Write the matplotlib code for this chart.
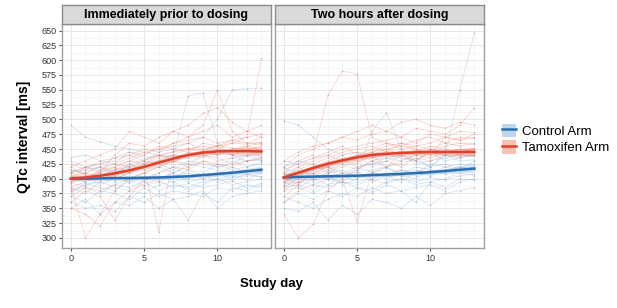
import matplotlib
matplotlib.use("Agg")
import matplotlib.pyplot as plt
from matplotlib.patches import Patch
from matplotlib.lines import Line2D
import numpy as np

plt.rcParams['font.family'] = ['Liberation Sans', 'DejaVu Sans']

days = list(range(14))
facets = ["Immediately prior to dosing", "Two hours after dosing"]

# individual patients, QTc in ms for study days 0..13
pre_control = [
    [490, 470, 462, 455, 450, 445, 440, 438, 440, 445, 442, 440, 438, 442],
    [410, 415, 420, 412, 418, 425, 430, 440, 540, 545, 460, 440, 430, 432],
    [430, 420, 425, 435, 440, 430, 445, 450, 460, 470, 500, 550, 552, 553],
    [400, 395, 405, 398, 410, 400, 395, 405, 410, 400, 405, 410, 415, 412],
    [380, 385, 375, 390, 385, 395, 380, 390, 385, 395, 400, 390, 395, 400],
    [370, 360, 380, 375, 365, 385, 370, 380, 375, 370, 385, 380, 390, 385],
    [415, 410, 420, 405, 425, 415, 420, 410, 425, 420, 415, 430, 420, 425],
    [360, 350, 355, 345, 370, 360, 375, 365, 370, 380, 350, 370, 375, 380],
    [395, 405, 390, 400, 395, 410, 405, 400, 415, 405, 410, 420, 410, 418],
    [435, 440, 430, 425, 445, 435, 440, 430, 420, 440, 435, 425, 440, 430],
    [385, 375, 395, 385, 380, 375, 390, 395, 380, 390, 400, 405, 398, 410],
    [350, 365, 340, 360, 355, 370, 350, 365, 330, 375, 360, 385, 380, 390],
    [405, 400, 410, 415, 400, 395, 410, 420, 405, 410, 425, 415, 420, 428],
    [410, 420, 415, 425, 420, 430, 425, 415, 430, 425, 420, 435, 430, 436],
    [392, 388, 400, 395, 405, 398, 402, 395, 400, 408, 395, 402, 405, 404],
    [420, 405, 398, 410, 392, 405, 398, 410, 395, 400, 410, 398, 408, 402],
    [375, 392, 385, 380, 398, 388, 395, 385, 392, 385, 390, 396, 385, 392],
]
pre_tamoxifen = [
    [400, 405, 410, 420, 430, 440, 450, 455, 460, 450, 455, 460, 458, 462],
    [390, 300, 340, 380, 400, 410, 420, 430, 440, 445, 440, 450, 455, 460],
    [410, 420, 425, 430, 440, 450, 445, 460, 470, 480, 490, 470, 480, 490],
    [380, 390, 395, 400, 410, 420, 310, 440, 450, 445, 455, 440, 450, 445],
    [420, 430, 440, 450, 480, 470, 460, 480, 470, 490, 550, 480, 460, 470],
    [395, 400, 405, 415, 420, 430, 440, 445, 450, 455, 450, 460, 470, 603],
    [370, 385, 380, 390, 400, 410, 420, 430, 425, 440, 430, 435, 440, 445],
    [405, 410, 420, 425, 435, 445, 450, 460, 465, 470, 460, 465, 470, 475],
    [350, 340, 320, 360, 380, 390, 400, 410, 420, 430, 420, 425, 430, 435],
    [410, 400, 415, 420, 430, 425, 440, 435, 445, 440, 450, 445, 455, 450],
    [385, 395, 400, 405, 415, 425, 430, 440, 435, 445, 440, 448, 445, 450],
    [400, 420, 410, 440, 460, 455, 470, 480, 490, 510, 520, 495, 480, 470],
    [360, 380, 370, 330, 370, 400, 410, 420, 415, 430, 425, 420, 430, 432],
    [425, 415, 430, 435, 445, 440, 455, 450, 445, 460, 455, 465, 460, 458],
    [398, 410, 404, 415, 425, 432, 438, 446, 452, 448, 456, 452, 448, 455],
    [405, 398, 412, 418, 410, 425, 435, 440, 438, 446, 442, 450, 452, 448],
    [415, 408, 398, 410, 422, 418, 432, 428, 440, 436, 448, 440, 446, 442],
]
post_control = [
    [498, 490, 470, 450, 440, 445, 430, 440, 435, 430, 445, 440, 438, 440],
    [400, 395, 405, 400, 410, 405, 480, 511, 450, 430, 420, 440, 550, 646],
    [410, 405, 415, 420, 410, 400, 415, 420, 405, 410, 420, 425, 415, 420],
    [380, 385, 375, 390, 395, 385, 380, 395, 400, 390, 395, 400, 410, 405],
    [370, 360, 350, 365, 375, 370, 385, 375, 380, 385, 390, 380, 395, 400],
    [420, 430, 425, 415, 430, 440, 420, 430, 440, 425, 430, 435, 440, 438],
    [390, 400, 395, 405, 390, 400, 410, 405, 395, 410, 405, 415, 420, 415],
    [350, 345, 360, 330, 355, 340, 365, 360, 350, 370, 355, 375, 380, 385],
    [430, 425, 435, 440, 430, 420, 425, 435, 430, 440, 445, 430, 435, 440],
    [395, 385, 400, 390, 405, 395, 400, 410, 405, 400, 415, 410, 420, 425],
    [360, 375, 365, 380, 370, 385, 375, 390, 380, 360, 395, 385, 400, 398],
    [410, 420, 400, 410, 425, 415, 430, 420, 425, 435, 420, 440, 430, 432],
    [385, 390, 380, 400, 395, 410, 395, 405, 415, 410, 425, 420, 415, 430],
    [405, 412, 398, 408, 415, 402, 410, 418, 410, 415, 408, 420, 425, 422],
    [395, 402, 410, 398, 405, 412, 400, 408, 415, 405, 412, 408, 415, 418],
    [418, 410, 420, 412, 402, 418, 412, 400, 410, 420, 415, 412, 420, 416],
    [388, 395, 390, 385, 395, 390, 398, 392, 400, 395, 402, 398, 405, 408],
]
post_tamoxifen = [
    [340, 300, 323, 380, 400, 327, 410, 420, 440, 430, 450, 445, 440, 450],
    [410, 430, 440, 541, 582, 576, 470, 460, 450, 455, 460, 470, 465, 470],
    [400, 420, 430, 440, 450, 455, 460, 465, 470, 460, 475, 470, 480, 478],
    [390, 410, 420, 430, 440, 445, 440, 450, 455, 450, 445, 455, 460, 458],
    [420, 440, 450, 460, 470, 465, 475, 480, 470, 485, 480, 475, 490, 520],
    [380, 395, 400, 410, 420, 430, 435, 440, 445, 440, 450, 445, 450, 448],
    [405, 415, 425, 435, 445, 450, 455, 445, 460, 455, 450, 460, 455, 460],
    [360, 380, 390, 400, 410, 420, 425, 430, 420, 435, 430, 440, 435, 442],
    [430, 445, 455, 460, 470, 480, 490, 480, 495, 500, 490, 485, 495, 490],
    [395, 405, 420, 425, 430, 440, 445, 450, 440, 445, 455, 450, 445, 452],
    [370, 390, 410, 420, 400, 415, 430, 435, 440, 430, 445, 440, 450, 445],
    [415, 425, 435, 445, 455, 440, 450, 460, 455, 465, 470, 460, 470, 468],
    [385, 400, 405, 415, 425, 435, 440, 420, 430, 440, 435, 445, 440, 446],
    [400, 390, 415, 420, 430, 425, 445, 455, 460, 450, 440, 470, 465, 475],
    [402, 412, 420, 428, 435, 438, 444, 440, 446, 442, 448, 444, 450, 446],
    [408, 404, 416, 422, 428, 434, 438, 446, 442, 448, 444, 440, 446, 450],
    [395, 410, 408, 420, 432, 430, 436, 442, 438, 444, 440, 448, 442, 440],
]

# smoothed group means and confidence half widths
pre_control_fit = [400, 400, 400.5, 401, 401, 401.5, 402, 403, 404, 406, 408, 410, 412.5, 415]
pre_control_ci = [4, 3, 3, 3, 3, 3, 3, 3, 3, 3, 3.5, 4, 5, 6]
pre_tam_fit = [400, 402, 405, 409, 414, 420, 427, 434, 440, 444, 446, 446.5, 446.5, 446]
pre_tam_ci = [5, 4, 4, 4, 4, 4, 4, 4, 4, 4, 4.5, 5, 6, 8]
post_control_fit = [402, 403, 403.5, 404, 404.5, 405, 406, 407, 408, 409.5, 411, 413, 415, 417]
post_control_ci = [4, 3, 3, 3, 3, 3, 3, 3, 3, 3, 3.5, 4, 5, 6]
post_tam_fit = [402, 410, 418, 425, 431, 436, 440, 442, 443.5, 444.5, 445, 445, 445, 445]
post_tam_ci = [5, 4, 4, 4, 4, 4, 4, 4, 4, 4, 4.5, 5, 6, 8]

blue = "#2B6FB0"
red = "#E0402A"
blue_thin = "#8DB8DC"
red_thin = "#F08C78"
blue_band = "#BFD6EC"
red_band = "#F8BFB2"

panels = [
    (pre_control, pre_tamoxifen, pre_control_fit, pre_control_ci, pre_tam_fit, pre_tam_ci),
    (post_control, post_tamoxifen, post_control_fit, post_control_ci, post_tam_fit, post_tam_ci),
]

fig = plt.figure(figsize=(6.17, 3.08), dpi=100)
lefts = [62 / 617, 275 / 617]
w = 209 / 617
bottom = 1 - 248 / 308
h = 224 / 308

for i, (ctl, tam, cf, cc, tf, tc) in enumerate(panels):
    ax = fig.add_axes([lefts[i], bottom, w, h])
    ax.set_xlim(-0.6, 13.65)
    ax.set_ylim(283, 661)
    ax.set_yticks(range(300, 651, 25))
    ax.set_yticks(np.arange(312.5, 650, 25), minor=True)
    ax.set_xticks([0, 5, 10])
    ax.set_xticks([d for d in days if d % 5 != 0], minor=True)
    ax.grid(True, which="major", color="#E3E3E3", lw=0.6)
    ax.grid(True, which="minor", color="#EFEFEF", lw=0.4)
    ax.set_axisbelow(True)
    for s in ax.spines.values():
        s.set_color("#A0A0A0")
        s.set_linewidth(1.0)
    ax.tick_params(which="both", length=0)
    ax.tick_params(axis="both", which="major", length=2, color="#555555",
                   labelsize=6.5, labelcolor="#333333", pad=2)
    if i == 1:
        ax.set_yticklabels([])
        ax.tick_params(axis="y", length=0)

    for p in ctl:
        ax.plot(days, p, color=blue_thin, lw=0.5, alpha=0.45)
        ax.scatter(days, p, s=1.2, color="#7A9CC0", alpha=0.6, lw=0)
    for p in tam:
        ax.plot(days, p, color=red_thin, lw=0.5, alpha=0.45)
        ax.scatter(days, p, s=1.2, color="#C98080", alpha=0.6, lw=0)

    cf, cc, tf, tc = map(np.array, (cf, cc, tf, tc))
    ax.fill_between(days, cf - cc, cf + cc, color=blue_band, alpha=0.7, lw=0)
    ax.fill_between(days, tf - tc, tf + tc, color=red_band, alpha=0.7, lw=0)
    ax.plot(days, cf, color=blue, lw=1.8)
    ax.plot(days, tf, color=red, lw=1.8)

    # facet strip
    sx = fig.add_axes([lefts[i], 1 - 24 / 308, w, 19 / 308])
    sx.set_xticks([])
    sx.set_yticks([])
    sx.set_facecolor("#D9D9D9")
    for s in sx.spines.values():
        s.set_color("#8C8C8C")
        s.set_linewidth(1.0)
    sx.text(0.5, 0.45, facets[i], ha="center", va="center",
            fontsize=9, fontweight="bold", transform=sx.transAxes)

fig.text(24 / 617, 1 - 137 / 308, "QTc interval [ms]", rotation=90,
         ha="center", va="center", fontsize=10, fontweight="bold")
fig.text(272 / 617, 1 - 284 / 308, "Study day", ha="center", va="center",
         fontsize=9.5, fontweight="bold")

handles = [
    (Patch(facecolor=blue_band, edgecolor="none"), Line2D([], [], color=blue, lw=1.8)),
    (Patch(facecolor=red_band, edgecolor="none"), Line2D([], [], color=red, lw=1.8)),
]
fig.legend(handles, ["Control Arm", "Tamoxifen Arm"], loc="center left",
           bbox_to_anchor=(490 / 617, 1 - 139 / 308), frameon=False,
           fontsize=9.5, handlelength=1.1, handleheight=1.2, handletextpad=0.4,
           labelspacing=0.15)

fig.savefig("out.png", dpi=100)
